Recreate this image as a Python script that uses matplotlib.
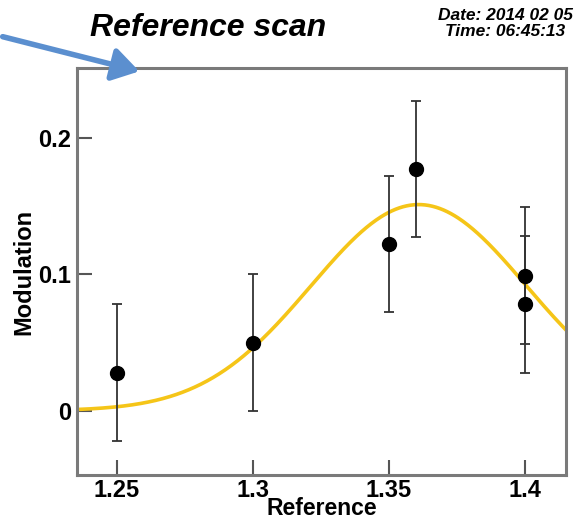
import numpy as np
import matplotlib
matplotlib.use("Agg")
import matplotlib.pyplot as plt
from matplotlib.patches import FancyArrowPatch

# Measured modulation versus reference setting
reference = [1.25, 1.30, 1.35, 1.36, 1.40, 1.40]
modulation = [0.028, 0.050, 0.122, 0.177, 0.099, 0.078]
modulation_err = [0.050, 0.050, 0.050, 0.050, 0.050, 0.050]

# Gaussian fit parameters
fit_amplitude = 0.151
fit_mean = 1.361
fit_sigma = 0.0396

x_ticks = [1.25, 1.30, 1.35, 1.40]
x_tick_labels = ["1.25", "1.3", "1.35", "1.4"]
y_ticks = [0.0, 0.1, 0.2]
y_tick_labels = ["0", "0.1", "0.2"]

W, H = 587, 519
fig = plt.figure(figsize=(W / 100, H / 100), dpi=100)
fig.patch.set_facecolor("white")

left, right, top, bottom = 77, 566, 68, 475
ax = fig.add_axes([left / W, 1 - bottom / H, (right - left) / W, (bottom - top) / H])

xmin, xmax = 1.2353, 1.4152
ymin, ymax = -0.047, 0.251
ax.set_xlim(xmin, xmax)
ax.set_ylim(ymin, ymax)

xs = np.linspace(xmin, xmax, 400)
ys = fit_amplitude * np.exp(-0.5 * ((xs - fit_mean) / fit_sigma) ** 2)
ax.plot(xs, ys, color="#f5c518", lw=2.6, zorder=2)

ax.errorbar(reference, modulation, yerr=modulation_err, fmt="o", color="black",
            ecolor="#333333", elinewidth=1.3, capsize=3.5, capthick=1.3,
            markersize=10, zorder=3)

font = "Liberation Sans"
ax.set_xticks(x_ticks)
ax.set_xticklabels(x_tick_labels, fontfamily=font, fontweight="bold", fontsize=17)
ax.set_yticks(y_ticks)
ax.set_yticklabels(y_tick_labels, fontfamily=font, fontweight="bold", fontsize=17)
ax.tick_params(axis="both", direction="in", length=11, width=1.5, color="#555555",
               top=False, right=False, pad=4)
ax.tick_params(axis="x", pad=3)

for side in ax.spines.values():
    side.set_color("#7a7a7a")
    side.set_linewidth(2.2)

ax.set_xlabel("Reference", fontfamily=font, fontweight="bold", fontsize=16.5, labelpad=-4)
ax.set_ylabel("Modulation", fontfamily=font, fontweight="bold", fontsize=17, labelpad=2)

fig.text(208 / W, 1 - 28 / H, "Reference scan", fontfamily=font, fontweight="bold",
         fontstyle="italic", fontsize=23, ha="center", va="center")
fig.text(505 / W, 1 - 16 / H, "Date: 2014 02 05", fontfamily=font, fontweight="bold",
         fontstyle="italic", fontsize=12.5, ha="center", va="center")
fig.text(505 / W, 1 - 31 / H, "Time: 06:45:13", fontfamily=font, fontweight="bold",
         fontstyle="italic", fontsize=12.5, ha="center", va="center")

arrow = FancyArrowPatch((0 / W, 1 - 36 / H), (142 / W, 1 - 72 / H),
                        transform=fig.transFigure, arrowstyle="-|>,head_length=8,head_width=5",
                        color="#5b8fcf", lw=4, mutation_scale=2)
fig.patches.append(arrow)

fig.savefig("out.png", dpi=100)
